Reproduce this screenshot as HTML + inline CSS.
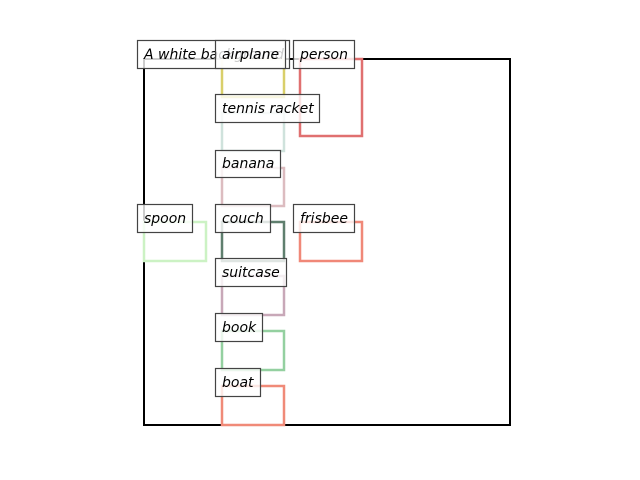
<!DOCTYPE html>
<html><head><style>body{margin:0;background:#fff}svg{display:block}</style></head><body>
<svg width="640" height="480" xmlns="http://www.w3.org/2000/svg" font-family="DejaVu Sans, Liberation Sans, sans-serif" font-style="italic" font-size="14">
<rect x="0" y="0" width="640" height="480" fill="#fff"/>
<rect x="144" y="59" width="366" height="366" fill="none" stroke="#000" stroke-width="2"/>
<g fill="none" stroke-width="2.5">
<rect x="222" y="59" width="62" height="38" stroke="#d9cf6a"/>
<rect x="222" y="113" width="62" height="38" stroke="#cfe2dc"/>
<rect x="222" y="168" width="62" height="38" stroke="#dcbcc0"/>
<rect x="222" y="222" width="62" height="39" stroke="#5f7f6e"/>
<rect x="222" y="276" width="62" height="39" stroke="#c8a8b8"/>
<rect x="222" y="331" width="62" height="39" stroke="#94d0a0"/>
<rect x="222" y="386" width="62" height="39" stroke="#f08a78"/>
<rect x="300" y="59" width="62" height="77" stroke="#e07070"/>
<rect x="300" y="222" width="62" height="39" stroke="#f08878"/>
<rect x="144" y="222" width="62" height="39" stroke="#ccf2c4"/>
</g>
<g stroke="#444" stroke-width="1.2" fill="#fff" fill-opacity="0.8">
<rect x="137.5" y="40.5" width="152" height="28"/>
<text x="144" y="59" fill="#000" fill-opacity="1" stroke="none">A white background</text>
<rect x="215.5" y="40.5" width="70" height="28"/>
<text x="222" y="59" fill="#000" fill-opacity="1" stroke="none">airplane</text>
<rect x="293.5" y="40.5" width="61" height="28"/>
<text x="300" y="59" fill="#000" fill-opacity="1" stroke="none">person</text>
<rect x="215.5" y="94.5" width="104" height="28"/>
<text x="222" y="113" fill="#000" fill-opacity="1" stroke="none">tennis racket</text>
<rect x="215.5" y="150.5" width="65" height="27"/>
<text x="222" y="168" fill="#000" fill-opacity="1" stroke="none">banana</text>
<rect x="137.5" y="204.5" width="55" height="28"/>
<text x="144" y="223" fill="#000" fill-opacity="1" stroke="none">spoon</text>
<rect x="215.5" y="204.5" width="55" height="28"/>
<text x="222" y="223" fill="#000" fill-opacity="1" stroke="none">couch</text>
<rect x="293.5" y="204.5" width="61" height="28"/>
<text x="300" y="223" fill="#000" fill-opacity="1" stroke="none">frisbee</text>
<rect x="215.5" y="258.5" width="71" height="28"/>
<text x="222" y="277" fill="#000" fill-opacity="1" stroke="none">suitcase</text>
<rect x="215.5" y="313.5" width="47" height="28"/>
<text x="222" y="332" fill="#000" fill-opacity="1" stroke="none">book</text>
<rect x="215.5" y="368.5" width="45" height="28"/>
<text x="222" y="387" fill="#000" fill-opacity="1" stroke="none">boat</text>
</g>
</svg>
</body></html>
